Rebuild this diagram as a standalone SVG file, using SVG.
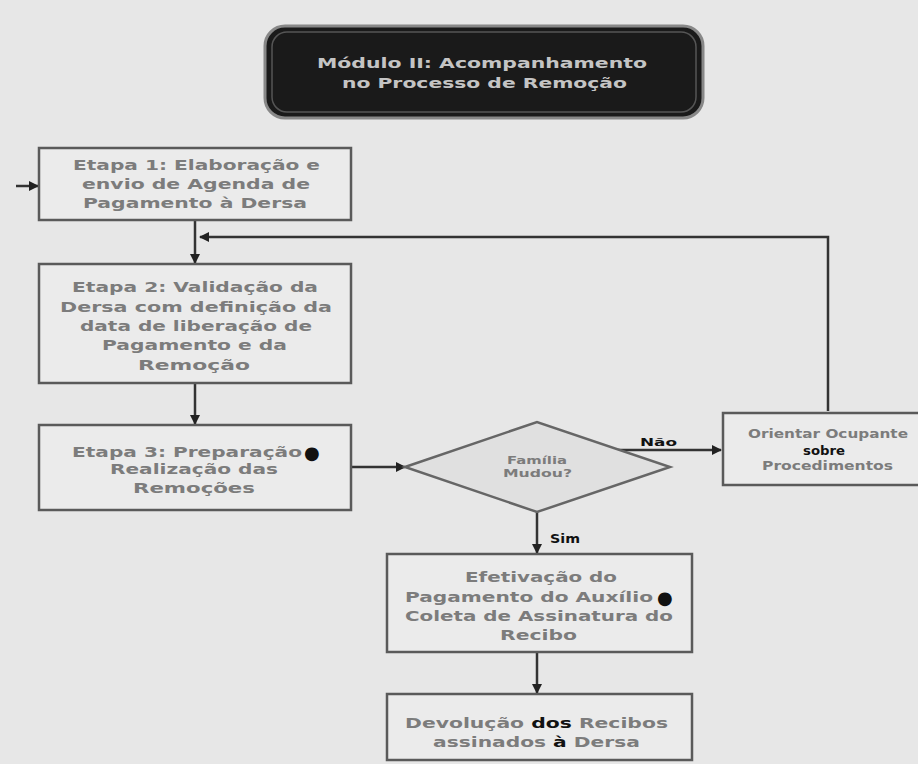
<svg xmlns="http://www.w3.org/2000/svg" width="918" height="764" viewBox="0 0 918 764">
<defs>
<style>
.box{fill:#ebebeb;stroke:#5a5a5a;stroke-width:2.5}
.t{font-family:"DejaVu Sans","Liberation Sans",Arial,sans-serif;font-weight:bold;font-size:13.5px;fill:#7c7c7c}
.k{fill:#111}
.ln{fill:none;stroke:#333;stroke-width:2.5}
</style>
<marker id="ah" viewBox="0 0 10 10" refX="9" refY="5" markerWidth="4" markerHeight="4" orient="auto"><path d="M0,0L10,5L0,10z" fill="#222"/></marker>
</defs>
<rect width="918" height="764" fill="#e7e7e7"/>
<g id="title">
<rect x="265" y="26" width="438" height="92" rx="20" fill="#1a1a1a" stroke="#888" stroke-width="3"/>
<rect x="272" y="32" width="424" height="80" rx="15" fill="none" stroke="#555" stroke-width="1.5"/>
<text class="t" x="317" y="68" textLength="330" lengthAdjust="spacingAndGlyphs" style="fill:#c4c4c4;font-size:14.5px">Módulo II: Acompanhamento</text>
<text class="t" x="342" y="88" textLength="285" lengthAdjust="spacingAndGlyphs" style="fill:#c4c4c4;font-size:14.5px">no Processo de Remoção</text>
</g>
<g id="connectors">
<line class="ln" x1="16" y1="186" x2="38" y2="186" marker-end="url(#ah)"/>
<line class="ln" x1="195" y1="221" x2="195" y2="263" marker-end="url(#ah)"/>
<polyline class="ln" points="828,411 828,237 200,237" marker-end="url(#ah)"/>
<line class="ln" x1="195" y1="384" x2="195" y2="424" marker-end="url(#ah)"/>
<line class="ln" x1="351" y1="467" x2="405" y2="467" marker-end="url(#ah)"/>
<line class="ln" x1="613" y1="450" x2="721" y2="450" marker-end="url(#ah)"/>
<line class="ln" x1="537" y1="512" x2="537" y2="553" marker-end="url(#ah)"/>
<line class="ln" x1="537" y1="653" x2="537" y2="693" marker-end="url(#ah)"/>
<text class="t k" x="640" y="446" textLength="37" lengthAdjust="spacingAndGlyphs" style="font-size:11px">Não</text>
<text class="t k" x="550" y="543" textLength="30" lengthAdjust="spacingAndGlyphs" style="font-size:12px">Sim</text>
</g>
<g id="etapa1">
<rect class="box" x="39" y="148" width="312" height="72"/>
<text class="t" x="73" y="170" textLength="247" lengthAdjust="spacingAndGlyphs">Etapa 1: Elaboração e</text>
<text class="t" x="82" y="189" textLength="228" lengthAdjust="spacingAndGlyphs">envio de Agenda de</text>
<text class="t" x="83" y="208" textLength="224" lengthAdjust="spacingAndGlyphs">Pagamento à Dersa</text>
</g>
<g id="etapa2">
<rect class="box" x="39" y="264" width="312" height="119"/>
<text class="t" x="72" y="292" textLength="246" lengthAdjust="spacingAndGlyphs">Etapa 2: Validação da</text>
<text class="t" x="60" y="312" textLength="272" lengthAdjust="spacingAndGlyphs">Dersa com definição da</text>
<text class="t" x="80" y="331" textLength="232" lengthAdjust="spacingAndGlyphs">data de liberação de</text>
<text class="t" x="102" y="350" textLength="185" lengthAdjust="spacingAndGlyphs">Pagamento e da</text>
<text class="t" x="138" y="370" textLength="112" lengthAdjust="spacingAndGlyphs">Remoção</text>
</g>
<g id="etapa3">
<rect class="box" x="39" y="425" width="312" height="85"/>
<text class="t" x="72" y="457" textLength="230" lengthAdjust="spacingAndGlyphs">Etapa 3: Preparação</text>
<text class="t k" x="304" y="459" style="font-size:18px">●</text>
<text class="t" x="110" y="474" textLength="168" lengthAdjust="spacingAndGlyphs">Realização das</text>
<text class="t" x="133" y="493" textLength="122" lengthAdjust="spacingAndGlyphs">Remoções</text>
</g>
<g id="decisao">
<polygon points="405,467 537,422 670,467 537,512" fill="#e0e0e0" stroke="#666" stroke-width="2.5"/>
<text class="t" x="507" y="464" textLength="60" lengthAdjust="spacingAndGlyphs" style="font-size:11px">Família</text>
<text class="t" x="503" y="477" textLength="69" lengthAdjust="spacingAndGlyphs" style="font-size:11px">Mudou?</text>
</g>
<g id="orientar">
<rect class="box" x="723" y="413" width="200" height="72"/>
<text class="t" x="748" y="438" textLength="160" lengthAdjust="spacingAndGlyphs" style="font-size:12px">Orientar Ocupante</text>
<text class="t k" x="803" y="455" textLength="42" lengthAdjust="spacingAndGlyphs" style="font-size:12px">sobre</text>
<text class="t" x="762" y="470" textLength="131" lengthAdjust="spacingAndGlyphs" style="font-size:12px">Procedimentos</text>
</g>
<g id="efetivacao">
<rect class="box" x="387" y="554" width="305" height="98"/>
<text class="t" x="465" y="582" textLength="152" lengthAdjust="spacingAndGlyphs">Efetivação do</text>
<text class="t" x="405" y="602" textLength="248" lengthAdjust="spacingAndGlyphs">Pagamento do Auxílio</text>
<text class="t k" x="657" y="604" style="font-size:18px">●</text>
<text class="t" x="405" y="621" textLength="268" lengthAdjust="spacingAndGlyphs">Coleta de Assinatura do</text>
<text class="t" x="500" y="640" textLength="77" lengthAdjust="spacingAndGlyphs">Recibo</text>
</g>
<g id="devolucao">
<rect class="box" x="387" y="694" width="305" height="66"/>
<text class="t" x="405" y="728" textLength="263" lengthAdjust="spacingAndGlyphs">Devolução <tspan class="k">dos</tspan> Recibos</text>
<text class="t" x="433" y="747" textLength="207" lengthAdjust="spacingAndGlyphs">assinados <tspan class="k">à</tspan> Dersa</text>
</g>
</svg>
